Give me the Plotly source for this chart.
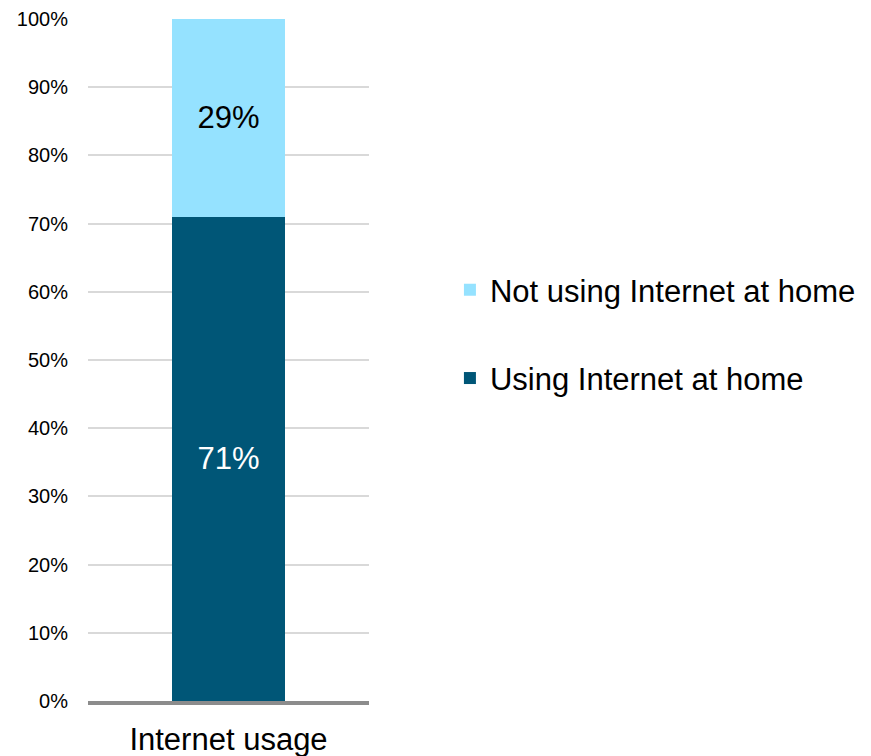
import plotly.graph_objects as go

categories = ["Internet usage"]
using_home = [0.71]
not_using_home = [0.29]
y_ticks = [0, 0.1, 0.2, 0.3, 0.4, 0.5, 0.6, 0.7, 0.8, 0.9, 1.0]
y_tick_labels = ["0%", "10%", "20%", "30%", "40%", "50%", "60%", "70%", "80%", "90%", "100%"]

fig = go.Figure()
fig.add_trace(go.Bar(
    x=categories, y=using_home, name="Using Internet at home",
    marker=dict(color="#005677", line=dict(width=0)),
    text=[f"{v*100:.0f}%" for v in using_home], textposition="inside",
    insidetextanchor="middle", textfont=dict(color="white", size=31, family="Liberation Sans"),
    legendgroup="b", legendrank=2, width=0.4,
))
fig.add_trace(go.Bar(
    x=categories, y=not_using_home, name="Not using Internet at home",
    marker=dict(color="#95E2FF", line=dict(width=0)),
    text=[f"{v*100:.0f}%" for v in not_using_home], textposition="inside",
    insidetextanchor="middle", textfont=dict(color="black", size=31, family="Liberation Sans"),
    legendgroup="a", legendrank=1, width=0.4,
))

fig.update_layout(
    barmode="stack",
    width=871, height=756,
    margin=dict(l=88, r=502, t=19, b=55, autoexpand=False),
    paper_bgcolor="white", plot_bgcolor="white",
    font=dict(family="Liberation Sans", color="black"),
    showlegend=True,
    legend=dict(
        traceorder="grouped", tracegroupgap=45,
        x=1.288, xanchor="left", y=0.538, yanchor="middle",
        font=dict(size=31, family="Liberation Sans", color="black"),
        itemwidth=30,
    ),
)
fig.update_yaxes(
    range=[0, 1], tickvals=y_ticks, ticktext=y_tick_labels,
    showgrid=True, gridcolor="#d9d9d9", gridwidth=2,
    zeroline=False, showline=False, automargin=False,
    ticks="outside", ticklen=15, tickcolor="rgba(0,0,0,0)",
    tickfont=dict(size=20, family="Liberation Sans", color="black"),
)
fig.update_xaxes(
    showline=True, linecolor="#8c8c8c", linewidth=4, automargin=False,
    ticks="outside", ticklen=8, tickcolor="rgba(0,0,0,0)",
    tickfont=dict(size=31, family="Liberation Sans", color="black"),
)

fig.write_html("out.html")
